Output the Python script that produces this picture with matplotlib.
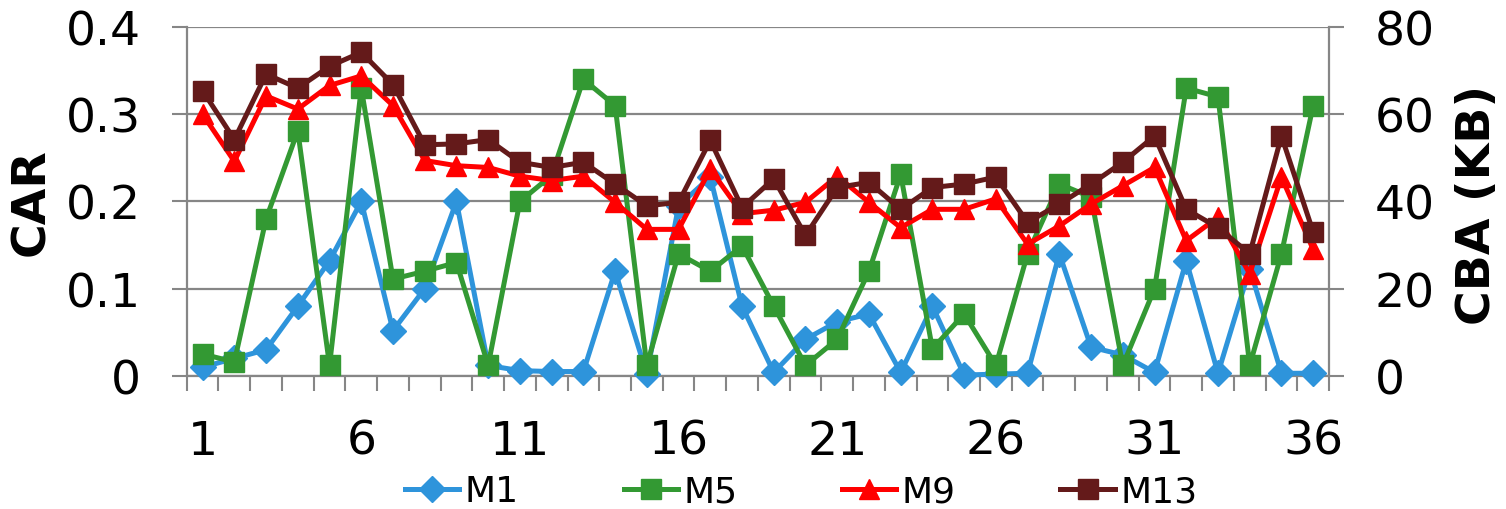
import matplotlib
matplotlib.use("Agg")
import matplotlib.pyplot as plt

####### DATA #######
x_labels = list(range(1, 37))
tick_labels = [1, 6, 11, 16, 21, 26, 31, 36]

m1 = [0.01, 0.02, 0.03, 0.08, 0.132, 0.2, 0.052, 0.1, 0.2, 0.012,
      0.006, 0.005, 0.005, 0.12, 0.002, 0.195, 0.228, 0.08, 0.004, 0.042,
      0.062, 0.071, 0.004, 0.08, 0.001, 0.002, 0.003, 0.14, 0.033, 0.024,
      0.004, 0.132, 0.003, 0.123, 0.003, 0.003]
m5 = [0.025, 0.016, 0.18, 0.281, 0.012, 0.33, 0.111, 0.12, 0.13, 0.012,
      0.2, 0.23, 0.34, 0.31, 0.012, 0.14, 0.12, 0.149, 0.08, 0.012,
      0.042, 0.12, 0.231, 0.031, 0.071, 0.012, 0.14, 0.22, 0.205, 0.012,
      0.1, 0.33, 0.32, 0.012, 0.14, 0.31]
m9 = [0.30, 0.246, 0.321, 0.306, 0.333, 0.344, 0.31, 0.247, 0.241, 0.239,
      0.229, 0.224, 0.229, 0.199, 0.168, 0.168, 0.237, 0.186, 0.19, 0.199,
      0.229, 0.199, 0.17, 0.191, 0.191, 0.203, 0.151, 0.172, 0.197, 0.218,
      0.239, 0.155, 0.182, 0.117, 0.228, 0.145]
m13 = [0.327, 0.271, 0.346, 0.330, 0.355, 0.371, 0.334, 0.265, 0.266, 0.271,
       0.245, 0.239, 0.245, 0.22, 0.195, 0.199, 0.27, 0.193, 0.226, 0.161,
       0.216, 0.222, 0.191, 0.216, 0.22, 0.228, 0.176, 0.197, 0.22, 0.245,
       0.275, 0.191, 0.17, 0.14, 0.275, 0.165]

####### PLOT #######
GRID = "#868686"
FS = 34
plt.rcParams['font.family'] = ['DejaVu Sans']

fig = plt.figure(figsize=(15.06, 5.10), dpi=100)
ax = fig.add_axes([0.124, 0.261, 0.7585, 0.684])

series = [
    ("M1", m1, "#2E94DB", "D", 13),
    ("M5", m5, "#339933", "s", 14),
    ("M9", m9, "#FF0000", "^", 15),
    ("M13", m13, "#641A1A", "s", 14),
]
for name, vals, col, mk, ms in series:
    ax.plot(x_labels, vals, color=col, lw=3.6, marker=mk, ms=ms,
            label=name, clip_on=False, zorder=3)

ax.set_xlim(0.5, 36.5)
ax.set_ylim(0, 0.4)
ax.set_yticks([0, 0.1, 0.2, 0.3, 0.4])
ax.set_yticklabels(["0", "0.1", "0.2", "0.3", "0.4"])
ax.set_xticks(tick_labels)
ax.set_xticklabels([str(t) for t in tick_labels])
ax.set_xticks([i + 0.5 for i in range(0, 37)], minor=True)
ax.tick_params(axis='x', which='major', length=0, pad=31, labelsize=FS)
ax.tick_params(axis='x', which='minor', length=11, width=1.5, color=GRID)
ax.tick_params(axis='y', length=11, width=1.5, color=GRID, labelsize=FS, pad=22)
ax.grid(axis='y', color=GRID, lw=1.6, zorder=0)
ax.set_axisbelow(True)
for s in ["left", "right", "bottom"]:
    ax.spines[s].set_color(GRID)
    ax.spines[s].set_linewidth(1.6)
ax.spines["top"].set_visible(False)

ax2 = ax.twinx()
ax2.set_ylim(0, 80)
ax2.set_yticks([0, 20, 40, 60, 80])
ax2.tick_params(axis='y', length=11, width=1.5, color=GRID, labelsize=FS, pad=22)
for s in ["left", "right", "bottom", "top"]:
    ax2.spines[s].set_visible(False)

fig.text(0.0212, 0.604, "CAR", rotation=90, ha="center", va="center",
         fontsize=FS, fontweight="bold")
fig.text(0.9814, 0.598, "CBA (KB)", rotation=90, ha="center", va="center",
         fontsize=FS, fontweight="bold")

fig.legend(loc='center', bbox_to_anchor=(0.532, 0.035), ncol=4,
           frameon=False, fontsize=26, handlelength=1.5, handletextpad=0.15,
           columnspacing=2.9, borderaxespad=0, borderpad=0)

fig.savefig("out.png", dpi=100)
